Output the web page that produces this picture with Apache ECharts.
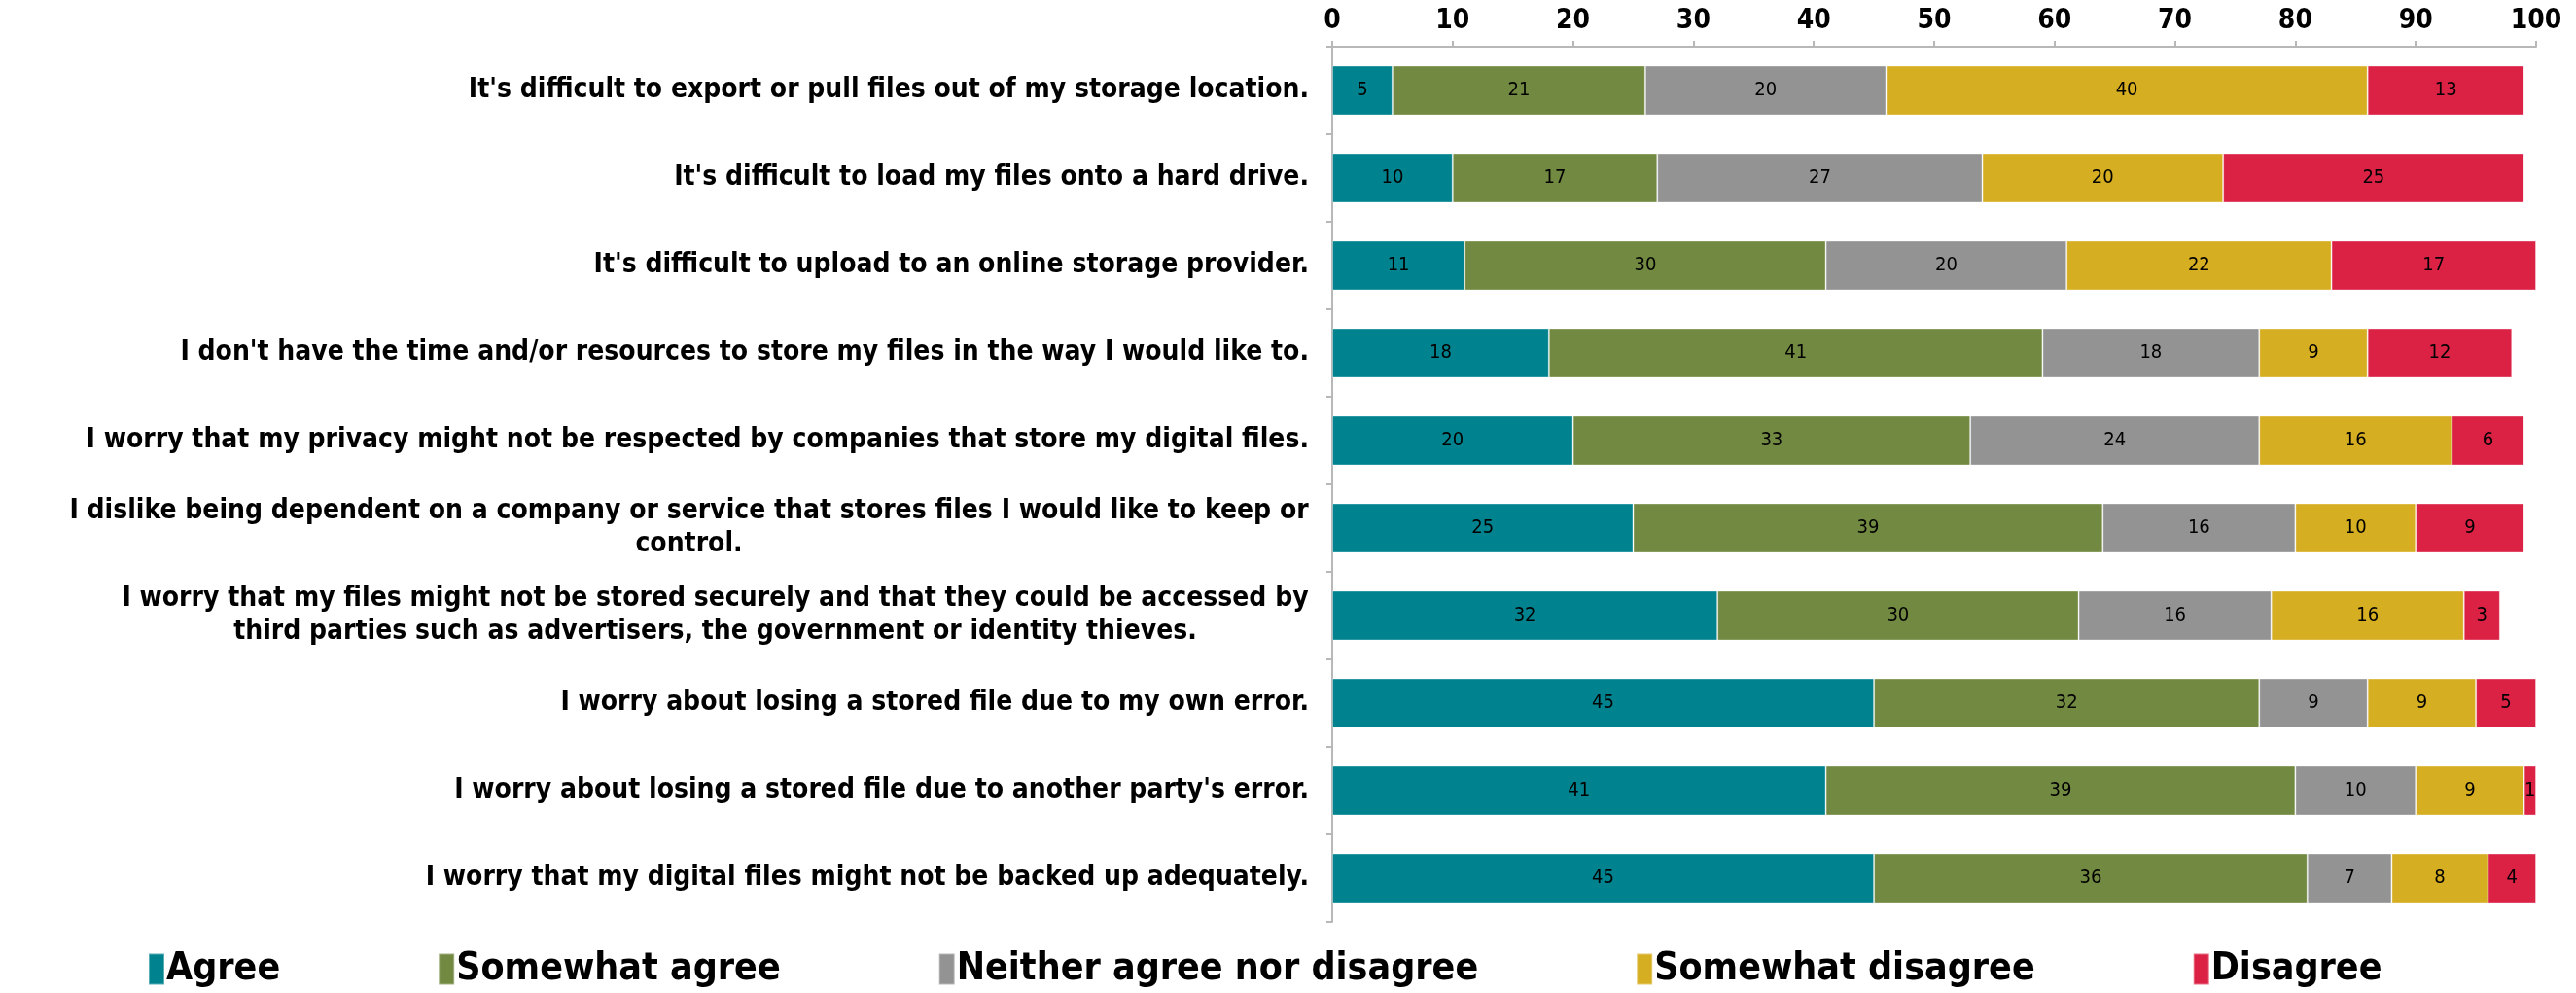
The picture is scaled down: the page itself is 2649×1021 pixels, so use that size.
<!DOCTYPE html>
<html>
<head>
<meta charset="utf-8">
<script src="https://cdn.jsdelivr.net/npm/echarts@6/dist/echarts.min.js"></script>
<style>
  html, body { margin: 0; padding: 0; background: #fff; }
  #chart { width: 2649px; height: 1021px; }
</style>
</head>
<body>
<div id="chart"></div>
<script>
// survey statements, top to bottom
const categories = [
  "It's difficult to export or pull files out of my storage location.",
  "It's difficult to load my files onto a hard drive.",
  "It's difficult to upload to an online storage provider.",
  "I don't have the time and/or resources to store my files in the way I would like to.",
  "I worry that my privacy might not be respected by companies that store my digital files.",
  "I dislike being dependent on a company or service that stores files I would like to keep or\ncontrol.",
  "I worry that my files might not be stored securely and that they could be accessed by\nthird parties such as advertisers, the government or identity thieves.",
  "I worry about losing a stored file due to my own error.",
  "I worry about losing a stored file due to another party's error.",
  "I worry that my digital files might not be backed up adequately."
]
const seriesNames = ['Agree', 'Somewhat agree', 'Neither agree nor disagree', 'Somewhat disagree', 'Disagree']
const agree = [5, 10, 11, 18, 20, 25, 32, 45, 41, 45]
const somewhatAgree = [21, 17, 30, 41, 33, 39, 30, 32, 39, 36]
const neither = [20, 27, 20, 18, 24, 16, 16, 9, 10, 7]
const somewhatDisagree = [40, 20, 22, 9, 16, 10, 16, 9, 9, 8]
const disagree = [13, 25, 17, 12, 6, 9, 3, 5, 1, 4]
const colors = ['#00838f', '#718940', '#939393', '#d6ae22', '#db2245']

const FONT = "'Liberation Sans Narrow', 'DejaVu Sans Condensed', 'Liberation Sans', sans-serif"
const labelSize = 28

// 多行标签：第二行居中，按第一行宽度
let ctx = document.createElement('canvas').getContext('2d')
ctx.font = 'bold ' + labelSize + 'px ' + FONT
let rich = {}
let multi = {}
categories.forEach((c, i) => {
  if (c.indexOf('\n') >= 0) {
    let lines = c.split('\n')
    let w = Math.max.apply(null, lines.map(l => ctx.measureText(l).width))
    rich['m' + i] = {
      width: Math.ceil(w), align: 'center', fontSize: labelSize, fontWeight: 'bold',
      fontFamily: FONT, color: '#000', lineHeight: 34
    }
    multi[c] = i
  }
})

let myChart = echarts.init(document.getElementById('chart'))
myChart.setOption({
  animation: false,
  color: colors,
  grid: {
    left: 1370,
    top: 48,
    width: 1238,
    height: 900
  },
  legend: {
    bottom: 0,
    left: 147,
    icon: 'rect',
    itemWidth: 16,
    itemHeight: 32,
    itemGap: 162,
    data: seriesNames,
    textStyle: {
      fontFamily: FONT,
      fontWeight: 'bold',
      fontSize: 39,
      color: '#000',
      padding: [0, 0, 0, -3]
    }
  },
  xAxis: {
    type: 'value',
    position: 'top',
    min: 0,
    max: 100,
    interval: 10,
    axisLine: { show: true, lineStyle: { color: '#b8b8b8', width: 2 } },
    axisTick: { show: true, length: 6, lineStyle: { color: '#b8b8b8', width: 2 } },
    splitLine: { show: false },
    axisLabel: {
      margin: 12,
      fontFamily: FONT,
      fontWeight: 'bold',
      fontSize: 28,
      color: '#000'
    }
  },
  yAxis: {
    type: 'category',
    inverse: true,
    data: categories,
    axisLine: { show: true, lineStyle: { color: '#b8b8b8', width: 2 } },
    axisTick: { show: true, length: 6, lineStyle: { color: '#b8b8b8', width: 2 } },
    axisLabel: {
      margin: 24,
      fontFamily: FONT,
      fontWeight: 'bold',
      fontSize: labelSize,
      lineHeight: 34,
      color: '#000',
      formatter: (v) => {
        if (multi[v] === undefined) return v
        let key = 'm' + multi[v]
        return v.split('\n').map(l => '{' + key + '|' + l + '}').join('\n')
      },
      rich: rich
    }
  },
  series: [agree, somewhatAgree, neither, somewhatDisagree, disagree].map((d, i) => ({
    name: seriesNames[i],
    type: 'bar',
    stack: 'total',
    barWidth: 51,
    data: d,
    itemStyle: {
      borderColor: 'rgba(255,255,255,0.35)',
      borderWidth: 1
    },
    label: {
      show: true,
      position: 'inside',
      fontFamily: FONT,
      fontSize: 20,
      color: '#000'
    }
  }))
})
</script>
</body>
</html>
